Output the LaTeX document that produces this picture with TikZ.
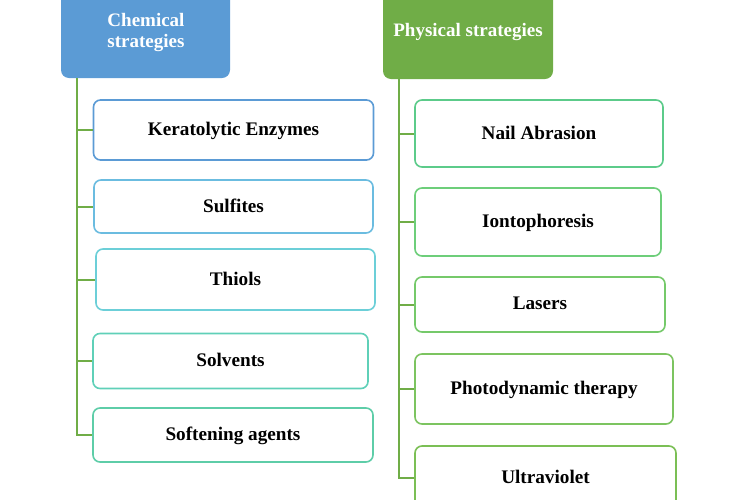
\documentclass[tikz,border=0pt]{standalone}
\usepackage{fontspec}
\setmainfont{Liberation Serif}
\begin{document}
\begin{tikzpicture}[x=1pt,y=-1pt,
  header/.style={draw=none,text=white,font=\bfseries\fontsize{19}{21}\selectfont,align=center,inner sep=0pt},
  item/.style={draw=#1,line width=1.6pt,fill=white,rounded corners=7pt,font=\bfseries\fontsize{19.2}{22}\selectfont,inner sep=0pt,text depth=2pt},
  conn/.style={draw=cline,line width=2pt}]
\definecolor{chemfill}{HTML}{5B9BD5}
\definecolor{physfill}{HTML}{70AD47}
\definecolor{cline}{HTML}{70AD47}
\definecolor{c1}{HTML}{5B9BD5}
\definecolor{c2}{HTML}{6BBCE0}
\definecolor{c3}{HTML}{6CCFD8}
\definecolor{c4}{HTML}{5FD0B8}
\definecolor{c5}{HTML}{5ECDA8}
\definecolor{p1}{HTML}{5CCB8A}
\definecolor{p2}{HTML}{6DCE7A}
\definecolor{p3}{HTML}{75C96A}
\definecolor{p4}{HTML}{7CC460}
\definecolor{p5}{HTML}{7BBF55}
\useasboundingbox (0,0) rectangle (750,499);
\begin{scope}
\clip (0,0) rectangle (750,499);
% headers
\fill[chemfill,rounded corners=8pt] (61,-20) rectangle (230,78);
\node[header] (chem) at (146,33) {Chemical\\strategies};
\fill[physfill,rounded corners=8pt] (383,-20) rectangle (553,79);
\node[header] (phys) at (468,32) {Physical strategies};
\coordinate (ctop) at (77,78);
\coordinate (ptop) at (399,79);
% left items
\node[item=c1,minimum width=280pt,minimum height=60pt] (k) at (233.5,130) {Keratolytic Enzymes};
\node[item=c2,minimum width=279pt,minimum height=53pt] (s) at (233.5,206.5) {Sulfites};
\node[item=c3,minimum width=279pt,minimum height=61pt] (t) at (235.5,279.5) {Thiols};
\node[item=c4,minimum width=275pt,minimum height=55pt] (v) at (230.5,361) {Solvents};
\node[item=c5,minimum width=280pt,minimum height=54pt] (a) at (233,435) {Softening agents};
% right items
\node[item=p1,minimum width=248pt,minimum height=67pt] (n) at (539,133.5) {Nail Abrasion};
\node[item=p2,minimum width=246pt,minimum height=68pt] (i) at (538,222) {Iontophoresis};
\node[item=p3,minimum width=250pt,minimum height=55pt] (l) at (540,304.5) {Lasers};
\node[item=p4,minimum width=258pt,minimum height=70pt] (d) at (544,389) {Photodynamic therapy};
\node[item=p5,minimum width=261pt,minimum height=64pt] (u) at (545.5,478) {Ultraviolet};
% connectors
\draw[conn] (ctop) |- (a.west);
\draw[conn] (ctop |- k.west) -- (k.west);
\draw[conn] (ctop |- s.west) -- (s.west);
\draw[conn] (ctop |- t.west) -- (t.west);
\draw[conn] (ctop |- v.west) -- (v.west);
\draw[conn] (ptop) |- (u.west);
\draw[conn] (ptop |- n.west) -- (n.west);
\draw[conn] (ptop |- i.west) -- (i.west);
\draw[conn] (ptop |- l.west) -- (l.west);
\draw[conn] (ptop |- d.west) -- (d.west);
\end{scope}
\end{tikzpicture}
\end{document}
